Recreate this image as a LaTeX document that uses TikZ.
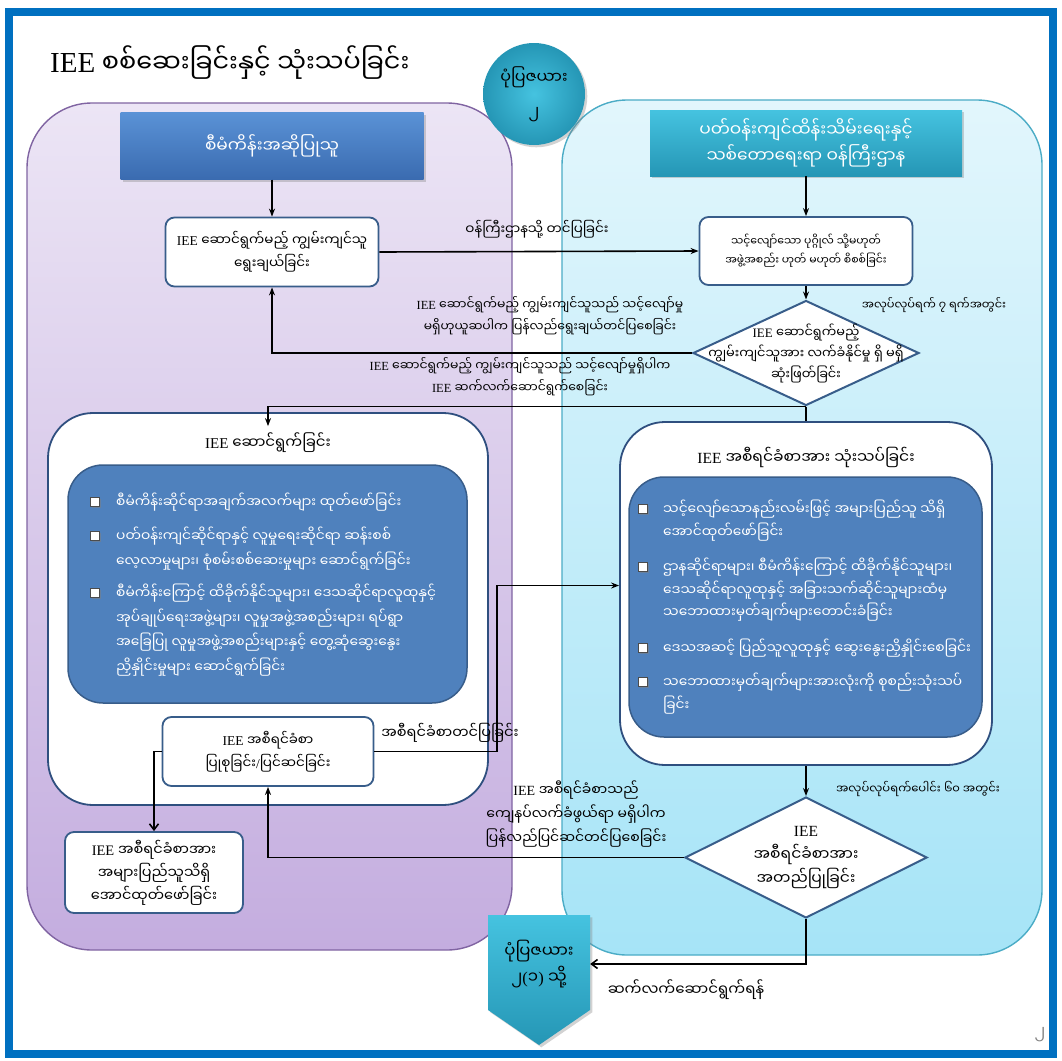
\documentclass[tikz,border=0pt]{standalone}
\usepackage{fontspec}
\setmainfont{Liberation Serif}
\newfontfamily\mm[Script=Myanmar]{Noto Sans Myanmar UI}
\usetikzlibrary{arrows.meta,shapes.geometric,shadows,calc}
\newcommand\fsz[2]{\fontsize{#1}{#2}\selectfont}
\newcommand\iee{{\rmfamily IEE}}
\newcommand\lat[1]{{\rmfamily #1}}
\definecolor{frameblue}{HTML}{0070C0}
\definecolor{purpTop}{HTML}{ECE5F5}
\definecolor{purpBot}{HTML}{C4ADDF}
\definecolor{purpLine}{HTML}{8064A2}
\definecolor{cyanTop}{HTML}{E2F6FC}
\definecolor{cyanBot}{HTML}{A6E4F7}
\definecolor{cyanLine}{HTML}{4BACC6}
\definecolor{hdrBlueT}{HTML}{5A92D6}
\definecolor{hdrBlueB}{HTML}{3A6BB0}
\definecolor{tealT}{HTML}{45C3E0}
\definecolor{tealB}{HTML}{2596B5}
\definecolor{boxLine}{HTML}{385D8A}
\definecolor{innerBlue}{HTML}{4F81BD}
\definecolor{bigLine}{HTML}{2F4F7F}
\tikzset{
 hdr/.style={draw=none, text=white, align=center, font=\mm\fsz{17}{26},
   drop shadow={opacity=0.35, shadow xshift=2pt, shadow yshift=-2pt}},
 wbox/.style={draw=boxLine, line width=1.8pt, fill=white, rounded corners=9pt,
   align=center, font=\mm\fsz{13.5}{23}, inner sep=2pt},
 dia/.style={diamond, draw=boxLine, line width=2pt, fill=white, inner sep=0pt},
 bigbox/.style={draw=bigLine, line width=1.8pt, fill=white, rounded corners=45pt},
 innerbox/.style={draw=boxLine, line width=1.5pt, fill=innerBlue, rounded corners=35pt},
 itm/.style={anchor=north west, inner sep=0pt, align=left, text=white, font=\mm\fsz{13.8}{24.5}},
 bul/.style={draw=black!70, fill=white, line width=0.8pt, minimum size=9pt, inner sep=0pt,
   drop shadow={opacity=0.5, shadow xshift=1pt, shadow yshift=-1pt}},
 lab/.style={align=center, font=\mm\fsz{12.4}{22}, inner sep=0pt},
 conn/.style={draw=black, line width=1.6pt},
 arr/.style={conn, -{Stealth[length=8pt,width=6pt]}},
 oarr/.style={conn, -{Straight Barb[length=6pt,width=9pt]}},
}
\begin{document}
\begin{tikzpicture}[x=1pt,y=-1pt]
\useasboundingbox (0,0) rectangle (1062,1060);
\fill[white] (0,0) rectangle (1062,1060);
% regions
\path[draw=purpLine, line width=1.4pt, top color=purpTop, bottom color=purpBot, rounded corners=65pt] (27,103) rectangle (512,950);
\path[draw=cyanLine, line width=1.4pt, top color=cyanTop, bottom color=cyanBot, rounded corners=65pt] (562,100) rectangle (1042,955);
% title
\node[anchor=west, inner sep=0pt, font=\mm\fsz{25.5}{32}] (title) at (50,63) {{\rmfamily\fsz{29}{32}IEE} စစ်ဆေးခြင်းနှင့် သုံးသပ်ခြင်း};
% circle
\node[circle, minimum size=102pt, inner sep=0pt, inner color=tealT, outer color=tealB,
  drop shadow={opacity=0.35}, align=center, font=\mm\fsz{16}{34}] (fig) at (534,94) {ပုံပြဇယား\\၂};
% headers
\node[hdr, top color=hdrBlueT, bottom color=hdrBlueB, minimum width=303pt, minimum height=67pt] (prop) at (272,146) {စီမံကိန်းအဆိုပြုသူ};
\node[hdr, top color=tealT, bottom color=tealB, minimum width=312pt, minimum height=66pt] (min) at (806,143) {ပတ်ဝန်းကျင်ထိန်းသိမ်းရေးနှင့်\\သစ်တောရေးရာ ဝန်ကြီးဌာန};
% boxes
\node[wbox, minimum width=213pt, minimum height=69pt] (b1) at (272,252) {\iee\ ဆောင်ရွက်မည့် ကျွမ်းကျင်သူ\\ရွေးချယ်ခြင်း};
\node[wbox, font=\mm\fsz{10.9}{19}, minimum width=213pt, minimum height=68pt] (b2) at (806,251) {သင့်လျော်သော ပုဂ္ဂိုလ် သို့မဟုတ်\\အဖွဲ့အစည်း ဟုတ် မဟုတ် စိစစ်ခြင်း};
\node[dia, minimum width=226pt, minimum height=105pt] (d1) at (806,353) {};
\node[lab, font=\mm\fsz{12.9}{21}] (d1t) at (806,353) {\iee\ ဆောင်ရွက်မည့်\\ကျွမ်းကျင်သူအား လက်ခံနိုင်မှု ရှိ မရှိ\\ဆုံးဖြတ်ခြင်း};
% left big box
\node[bigbox, minimum width=440pt, minimum height=392pt] (lbig) at (268,609) {};
\node[font=\mm\fsz{15}{24}, inner sep=0pt] (lbt) at (268,443) {\iee\ ဆောင်ရွက်ခြင်း};
\node[innerbox, minimum width=399pt, minimum height=238pt] (lin) at (267.5,584) {};
\node[bul] (lb1) at (95,502) {};
\node[itm] (li1) at (116,493) {စီမံကိန်းဆိုင်ရာအချက်အလက်များ ထုတ်ဖော်ခြင်း};
\node[bul] (lb2) at (95,536) {};
\node[itm] (li2) at (116,527) {ပတ်ဝန်းကျင်ဆိုင်ရာနှင့် လူမှုရေးဆိုင်ရာ ဆန်းစစ်\\လေ့လာမှုများ၊ စုံစမ်းစစ်ဆေးမှုများ ဆောင်ရွက်ခြင်း};
\node[bul] (lb3) at (95,593) {};
\node[itm] (li3) at (116,584) {စီမံကိန်းကြောင့် ထိခိုက်နိုင်သူများ၊ ဒေသဆိုင်ရာလူထုနှင့်\\အုပ်ချုပ်ရေးအဖွဲ့များ၊ လူမှုအဖွဲ့အစည်းများ၊ ရပ်ရွာ\\အခြေပြု လူမှုအဖွဲ့အစည်းများနှင့် တွေ့ဆုံဆွေးနွေး\\ညှိနှိုင်းမှုများ ဆောင်ရွက်ခြင်း};
% right big box
\node[bigbox, minimum width=372pt, minimum height=343pt] (rbig) at (806,593.5) {};
\node[font=\mm\fsz{15.5}{24}, inner sep=0pt] (rbt) at (806,457) {\iee\ အစီရင်ခံစာအား သုံးသပ်ခြင်း};
\node[innerbox, minimum width=353pt, minimum height=260pt] (rin) at (805.5,607) {};
\node[bul] (rb1) at (643,509) {};
\node[itm, font=\mm\fsz{13.8}{22.5}] (ri1) at (663,500) {သင့်လျော်သောနည်းလမ်းဖြင့် အများပြည်သူ သိရှိ\\အောင်ထုတ်ဖော်ခြင်း};
\node[bul] (rb2) at (643,567) {};
\node[itm, font=\mm\fsz{13.8}{22.5}] (ri2) at (663,558) {ဌာနဆိုင်ရာများ၊ စီမံကိန်းကြောင့် ထိခိုက်နိုင်သူများ၊\\ဒေသဆိုင်ရာလူထုနှင့် အခြားသက်ဆိုင်သူများထံမှ\\သဘောထားမှတ်ချက်များတောင်းခံခြင်း};
\node[bul] (rb3) at (643,648) {};
\node[itm, font=\mm\fsz{13.8}{22.5}] (ri3) at (663,639) {ဒေသအဆင့် ပြည်သူလူထုနှင့် ဆွေးနွေးညှိနှိုင်းစေခြင်း};
\node[bul] (rb4) at (643,682) {};
\node[itm, font=\mm\fsz{13.8}{22.5}] (ri4) at (663,673) {သဘောထားမှတ်ချက်များအားလုံးကို စုစည်းသုံးသပ်\\ခြင်း};
% lower boxes
\node[wbox, minimum width=211pt, minimum height=69pt] (b3) at (268,751.5) {\iee\ အစီရင်ခံစာ\\ပြုစုခြင်း\lat{/}ပြင်ဆင်ခြင်း};
\node[wbox, font=\mm\fsz{14.5}{23}, minimum width=178pt, minimum height=81pt] (b4) at (154,872.5) {\iee\ အစီရင်ခံစာအား\\အများပြည်သူသိရှိ\\အောင်ထုတ်ဖော်ခြင်း};
\node[dia, minimum width=242pt, minimum height=121pt] (d2) at (806,857.5) {};
\node[lab, font=\mm\fsz{15.5}{24}] (d2t) at (806,857.5) {\iee\\အစီရင်ခံစာအား\\အတည်ပြုခြင်း};
% pentagon
\path[top color=tealT, bottom color=tealB, drop shadow={opacity=0.35}] (488,915) -- (590,915) -- (590,1010) -- (539,1045) -- (488,1010) -- cycle;
\node[minimum width=102pt, inner sep=0pt, align=center, font=\mm\fsz{16.5}{26}] (goto) at (539,964) {ပုံပြဇယား\\၂\lat{(}၁\lat{)} သို့};
% labels
\node[lab, font=\mm\fsz{13.5}{22}] (l1) at (537,229) {ဝန်ကြီးဌာနသို့ တင်ပြခြင်း};
\node[lab] (l2) at (550,316) {\iee\ ဆောင်ရွက်မည့် ကျွမ်းကျင်သူသည် သင့်လျော်မှု\\မရှိဟုယူဆပါက ပြန်လည်ရွေးချယ်တင်ပြစေခြင်း};
\node[lab] (l3) at (520,377) {\iee\ ဆောင်ရွက်မည့် ကျွမ်းကျင်သူသည် သင့်လျော်မှုရှိပါက\\\iee\ ဆက်လက်ဆောင်ရွက်စေခြင်း};
\node[lab, font=\mm\fsz{11.4}{22}] (l4) at (934,305) {အလုပ်လုပ်ရက် ၇ ရက်အတွင်း};
\node[lab, font=\mm\fsz{14.5}{22}] (l5) at (450,733) {အစီရင်ခံစာတင်ပြခြင်း};
\node[lab, font=\mm\fsz{14}{24}] (l6) at (576,814) {\iee\ အစီရင်ခံစာသည်\\ကျေနပ်လက်ခံဖွယ်ရာ မရှိပါက\\ပြန်လည်ပြင်ဆင်တင်ပြစေခြင်း};
\node[lab, font=\mm\fsz{11.6}{22}] (l7) at (918,789) {အလုပ်လုပ်ရက်ပေါင်း ၆၀ အတွင်း};
\node[lab, font=\mm\fsz{15}{22}] (l8) at (686,990) {ဆက်လက်ဆောင်ရွက်ရန်};
\node[font=\mm\fsz{16}{20}, text=gray] (pg) at (1040,1035) {၂};
% connectors
\coordinate (c1) at (497,0);
\draw[arr] (prop.south) -- (b1.north);
\draw[arr] (min.south) -- (b2.north);
\draw[arr] (b1.east) -- (b2.west);
\draw[arr] (b2.south) -- (d1.north);
\draw[arr] (d1.west) -| (b1.south);
\draw[conn] (d1.south) -- (rbig.north);
\draw[arr] (d1.south) -| ($(lbig.north)+(0,14)$);
\draw[arr] (b3.east) -- (b3.east -| c1) |- ($(rbig.west)+(0,-8)$);
\draw[arr] (rbig.south) -- (d2.north);
\draw[arr] (d2.west) -| (b3.south);
\draw[oarr] (b3.west) -| (b4.north);
\draw[oarr] (d2.south) |- (goto.east);
% frame
\draw[frameblue, line width=8pt] (9,12) rectangle (1053,1054);
\end{tikzpicture}
\end{document}
